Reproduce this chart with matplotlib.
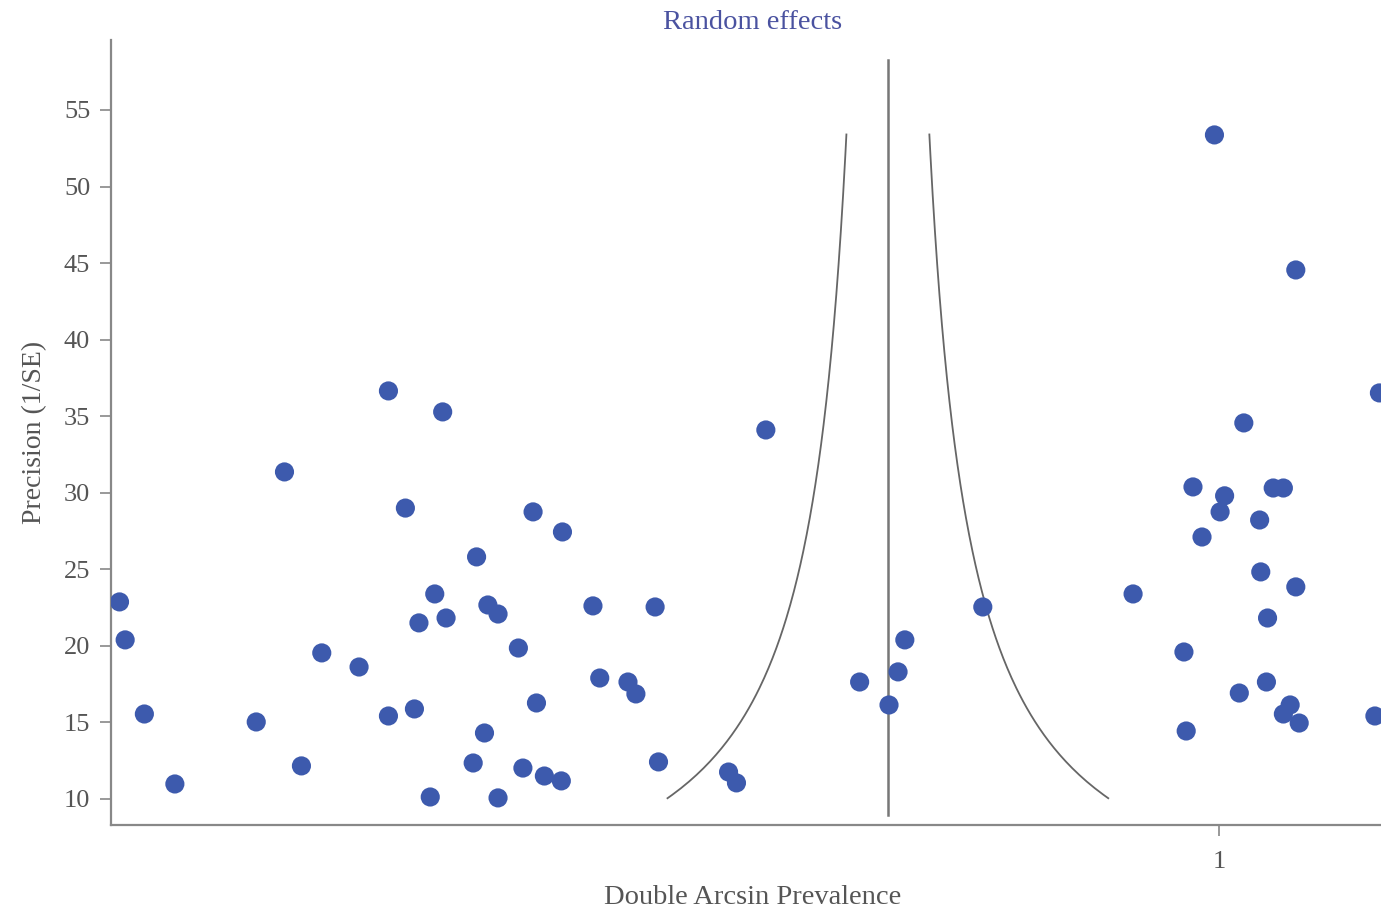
import numpy as np
import matplotlib
matplotlib.use("Agg")
import matplotlib.pyplot as plt

plt.rcParams['font.family'] = ['Liberation Serif', 'DejaVu Serif']

# study estimates (double arcsine prevalence) and precision (1/SE)
est = [0.027, 0.032, 0.049, 0.076, 0.148, 0.173, 0.188, 0.206, 0.239, 0.265,
       0.280, 0.288, 0.292, 0.302, 0.306, 0.316, 0.265, 0.313, 0.393, 0.419,
       0.343, 0.353, 0.362, 0.446, 0.501, 0.380, 0.452, 0.477, 0.484, 0.396,
       0.350, 0.340, 0.384, 0.403, 0.418, 0.362, 0.504, 0.566, 0.573, 0.682,
       0.708, 0.716, 0.722, 0.599, 0.996, 1.068, 1.022, 1.142, 0.791, 0.924,
       0.977, 1.005, 1.001, 0.985, 1.048, 1.057, 1.036, 1.037, 1.068, 1.043,
       0.969, 1.042, 1.018, 1.063, 1.057, 1.071, 0.971, 1.138]
prec = [22.87, 20.39, 15.55, 10.98, 15.03, 31.36, 12.16, 19.54, 18.62, 15.42,
        29.0, 15.88, 21.5, 10.13, 23.39, 21.82, 36.65, 35.28, 28.75, 27.44,
        25.81, 22.67, 22.08, 22.61, 22.54, 19.86, 17.9, 17.64, 16.86, 16.27,
        14.31, 12.35, 12.02, 11.5, 11.18, 10.07, 12.42, 11.76, 11.05, 17.64,
        16.14, 18.3, 20.39, 34.1, 53.37, 44.55, 34.56, 36.52, 22.54, 23.39,
        30.38, 29.8, 28.75, 27.11, 30.31, 30.31, 28.22, 24.83, 23.85, 21.82,
        19.6, 17.64, 16.92, 16.14, 15.55, 14.96, 14.44, 15.42]

pooled = 0.707
prec_lo, prec_hi = 10.05, 53.4
line_lo, line_hi = 8.95, 58.27

yticks = [10, 15, 20, 25, 30, 35, 40, 45, 50, 55]

fig = plt.figure(figsize=(13.81, 9.09), dpi=100)
ax = fig.add_axes([0.0804, 0.0924, 0.9196, 0.8636])

ax.scatter(est, prec, s=190, color='#3d5aad', edgecolors='none', zorder=3)

p = np.linspace(prec_lo, prec_hi, 200)
ax.plot(pooled - 1.96 / p, p, color='#666666', lw=1.3)
ax.plot(pooled + 1.96 / p, p, color='#666666', lw=1.3)
ax.plot([pooled, pooled], [line_lo, line_hi], color='#777777', lw=1.8)

ax.set_xlim(0.0195, 1.1434)
ax.set_ylim(8.30, 59.57)
ax.set_yticks(yticks)
ax.set_xticks([1])
ax.set_xticklabels(['1'])

for s in ['top', 'right']:
    ax.spines[s].set_visible(False)
for s in ['left', 'bottom']:
    ax.spines[s].set_color('#888888')
    ax.spines[s].set_linewidth(1.6)
ax.tick_params(axis='both', colors='#888888', length=8, width=1.2,
               labelsize=19, labelcolor='#555555', pad=7)
ax.tick_params(axis='x', pad=11)

ax.set_ylabel('Precision (1/SE)', fontsize=20, color='#555555', labelpad=12)
fig.text(0.545, 0.005, 'Double Arcsin Prevalence', fontsize=20.5, color='#555555', ha='center')
fig.text(0.545, 0.968, 'Random effects', fontsize=20.5, color='#4a52a0', ha='center')

fig.savefig('out.png', dpi=100)
